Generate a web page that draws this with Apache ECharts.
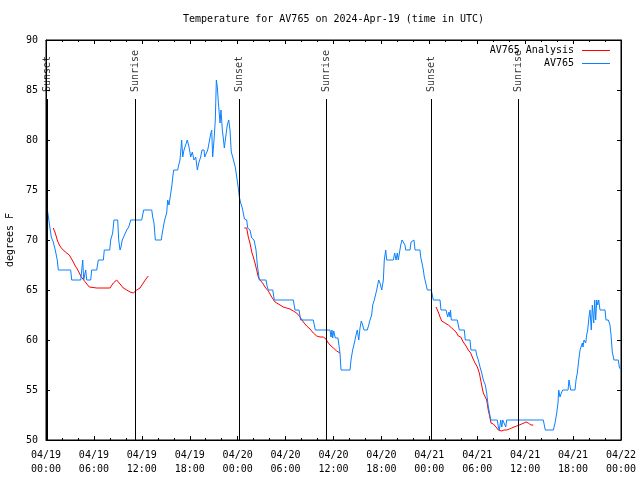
<!DOCTYPE html>
<html><head><meta charset="utf-8">
<script src="https://cdn.jsdelivr.net/npm/echarts@6/dist/echarts.min.js"></script>
<style>html,body{margin:0;padding:0;background:#fff}#c{width:640px;height:480px}</style>
</head><body><div id="c"></div>
<script>
// ---- data (hours since 2024-04-19 00:00 UTC, degrees F) ----
const titleText = 'Temperature for AV765 on 2024-Apr-19 (time in UTC)';
const xTickLabels = ['04/19\n00:00','04/19\n06:00','04/19\n12:00','04/19\n18:00','04/20\n00:00','04/20\n06:00','04/20\n12:00','04/20\n18:00','04/21\n00:00','04/21\n06:00','04/21\n12:00','04/21\n18:00','04/22\n00:00'];
const sunNames = ['Sunset','Sunrise','Sunset','Sunrise','Sunset','Sunrise'];
const sunHours = [0.13, 11.23, 24.2, 35.1, 48.27, 59.14];

const obsHours = [0.16,0.41,0.66,0.91,1.16,1.41,1.54,3.09,3.22,4.35,4.60,4.72,4.97,5.10,5.60,5.72,6.35,6.55,7.18,7.30,7.98,8.10,8.35,8.51,8.98,9.10,9.27,9.39,9.55,10.11,10.36,10.61,11.98,12.23,13.24,13.36,13.52,13.69,14.44,14.56,14.74,14.86,15.11,15.24,15.40,15.74,15.87,15.99,16.49,16.62,16.78,16.99,17.12,17.28,17.49,17.69,17.91,18.12,18.32,18.53,18.75,18.95,19.16,19.37,19.53,19.79,19.87,20.07,20.25,20.47,20.62,20.75,20.87,21.04,21.20,21.33,21.45,21.58,21.79,21.91,22.08,22.20,22.33,22.50,22.70,22.88,23.04,23.20,23.38,23.54,23.70,23.88,24.08,24.21,24.38,24.58,24.83,24.85,25.13,25.26,25.54,25.76,26.05,26.30,26.46,26.71,27.55,27.71,27.84,28.39,28.59,30.97,31.18,31.68,31.89,33.47,33.72,35.56,35.69,35.81,35.90,36.03,36.23,36.56,36.81,36.94,38.07,38.19,38.40,38.61,38.82,38.98,39.16,39.32,39.48,39.61,39.82,40.23,40.41,40.57,40.78,40.91,41.11,41.41,41.53,41.66,41.82,42.04,42.24,42.36,42.54,42.66,43.49,43.66,43.83,43.99,44.11,44.33,44.42,44.58,44.83,44.95,45.04,45.58,45.71,45.87,46.08,46.21,46.83,46.92,47.08,47.25,47.37,47.55,47.75,48.25,48.37,48.50,49.34,49.46,50.09,50.30,50.46,50.59,50.65,50.75,51.50,51.63,51.75,52.38,52.50,53.09,53.21,53.81,53.93,54.13,54.35,54.56,54.76,55.01,55.18,55.35,55.51,55.69,56.51,56.64,56.76,56.94,57.07,57.19,57.44,57.57,57.69,62.27,62.52,63.53,63.74,63.95,64.11,64.20,64.36,64.53,64.70,65.37,65.49,65.70,66.24,66.37,66.53,66.71,66.87,67.08,67.16,67.24,67.37,67.58,67.70,67.83,67.99,68.12,68.28,68.41,68.58,68.71,68.83,68.96,69.08,69.21,69.37,70.00,70.12,70.41,70.62,70.75,70.91,71.12,71.66,71.79,71.97];
const obsTemps = [73.1,71.7,70.3,69.8,69,68,67,67,66,66,68,66,67,66,66,67,67,68,68,69,69,70,70.7,72,72,70,69,69.3,70,71,71.3,72,72,73,73,72.3,71.7,70,70,70.7,71.5,72,72.7,74,73.5,75.3,76.3,77,77,77.5,78,80,78.3,79,79.5,80,79.3,78.3,78.8,78,78.3,77,77.8,78.3,79,79,78.3,78.3,79,79,80.6,81,78.3,80,82,86,85.3,83.8,81.7,83,81,80.2,79.2,80.3,81.5,82,81,78.8,78.3,77.8,77.3,76.3,75.2,74.3,73.7,73.2,73.1,72.1,72,71.2,71,70.2,70,69,67.5,66,66,65.3,65,65,64,64,63,63,62,62,61,61,60.3,61,60.2,60.9,60.2,60.2,58.7,57,57,58,59,59.7,60.5,61,60,61.2,61.9,61.6,61,61,61.5,62,62.5,63.5,64,65,65.5,66,65.7,65,66,68,69,68,68,68.7,68,68.7,68,68,69.5,70,70,69.5,69,69,69.8,70,70,69,69,68.3,67.7,67,66.3,65.7,65,65,64.5,64,64,63,63,62.3,62.8,62.3,63,62,62,61.5,61,61,60,60,59,59,58.5,58,57.3,56.7,56,55.5,54.7,53.5,52.8,52,52,51.3,51,52,51.3,52,52,51.3,52,52,51,51,51.7,52.7,53.7,55,54.3,54.7,55,55,56,55,55,56,56.7,58,59,59,59.7,59.3,60,59.7,60.5,61,62.3,63,61,63.5,61.7,64,62,64,63.5,64,63,63,62,62,61.5,60.5,58.8,58,58,57.3,57];

const anaHours1 = [0.91,1.16,1.41,1.67,1.92,2.17,2.42,2.67,2.92,3.17,3.42,3.67,3.92,4.17,4.42,4.67,4.92,5.17,5.42,5.67,6.35,8.01,8.43,8.85,9.27,9.68,10.11,10.52,10.93,11.36,11.77,12.18,12.52,12.81];
const anaTemps1 = [71.2,70.7,70,69.5,69.2,69,68.8,68.6,68.5,68.3,67.8,67.4,67.1,66.7,66.3,66.1,65.8,65.6,65.3,65.1,65.2,65.2,65.7,66,65.6,65.2,65,64.8,64.7,65,65.2,65.7,66.1,66.4];
const anaHours2 = [24.83,25.13,25.33,25.54,25.76,25.96,26.17,26.38,26.58,26.80,27.21,27.42,27.84,28.05,28.26,28.46,28.68,28.89,29.30,29.71,30.14,30.55,30.97,31.39,31.81,32.22,32.64,33.06,33.47,33.90,34.31,34.72,35.06,35.27,35.56,35.98,36.40,36.81];
const anaTemps2 = [71.2,71.2,70.3,69.7,68.8,68.3,67.7,67,66.3,66,65.6,65.3,64.9,64.7,64.3,64.2,63.8,63.6,63.5,63.3,63.2,63.1,62.9,62.7,62.3,61.8,61.4,61.1,60.7,60.4,60.3,60.3,60.1,59.8,59.5,59.2,58.9,58.7];
const anaHours3 = [48.84,49.12,49.34,49.55,49.96,50.38,50.80,51.34,51.63,51.93,52.25,52.59,52.88,53.18,53.43,53.72,54.01,54.26,54.43,54.60,54.76,55.01,55.18,55.38,55.60,55.72,56.01,56.35,56.64,57.07,57.35,57.69,58.01,58.31,58.60,58.94,59.26,59.56,59.85,60.11,60.39,60.73,61.02];
const anaTemps3 = [63.3,62.8,62.3,61.9,61.7,61.5,61.2,60.8,60.4,60.3,59.8,59.4,59,58.7,58.2,57.7,57.3,56.7,56,55.3,54.7,54.5,54,53,52.2,51.7,51.6,51.3,51,50.9,51,51,51.1,51.2,51.3,51.4,51.5,51.6,51.7,51.8,51.7,51.5,51.5];

// ---- build chart ----
const zip = (a, b) => a.map((v, i) => [v, b[i]]);
const FONT = 'DejaVu Sans Mono';
const RED = '#ff0000', BLUE = '#0a80ff';
const sunLineTop = 84.1, sunLabelBase = 84.8;

const chart = echarts.init(document.getElementById('c'), null, {renderer: 'canvas'});
const baseX = {type: 'value', min: 0, max: 72, interval: 6,
  axisLine: {show: true, onZero: false, lineStyle: {color: '#000', width: 1}},
  axisTick: {show: true, inside: true, length: 4, lineStyle: {color: '#000'}},
  minorTick: {show: true, splitNumber: 3, length: 2, lineStyle: {color: '#000'}},
  splitLine: {show: false}, minorSplitLine: {show: false}};
const baseY = {type: 'value', min: 50, max: 90, interval: 5,
  axisLine: {show: true, onZero: false, lineStyle: {color: '#000', width: 1}},
  axisTick: {show: true, inside: true, length: 4, lineStyle: {color: '#000'}},
  splitLine: {show: false}};

const anaSeries = [[anaHours1, anaTemps1], [anaHours2, anaTemps2], [anaHours3, anaTemps3]].map(([h, t]) => ({
  name: 'AV765 Analysis', type: 'line', data: zip(h, t), showSymbol: false, symbol: 'none',
  lineStyle: {color: RED, width: 1}, itemStyle: {color: RED}, z: 3
}));

chart.setOption({
  animation: false,
  backgroundColor: '#fff',
  textStyle: {fontFamily: FONT},
  title: {text: titleText, left: 333.5, top: 14, textAlign: 'center', padding: 0,
    textStyle: {fontFamily: FONT, fontSize: 10, fontWeight: 'normal', color: '#000'}},
  legend: {data: ['AV765 Analysis', 'AV765'], orient: 'vertical', right: 30, top: 44, align: 'right',
    icon: 'rect', itemWidth: 28, itemHeight: 1, itemGap: 0, padding: 0,
    textStyle: {fontFamily: FONT, fontSize: 10, color: '#000', lineHeight: 13, padding: [0, 3, 0, 0]}},
  grid: {left: 46, right: 19, top: 40, bottom: 40, show: true, borderColor: '#000', borderWidth: 1,
    containLabel: false, outerBoundsMode: 'none'},
  xAxis: [
    Object.assign({}, baseX, {position: 'bottom',
      axisLabel: {show: true, fontFamily: FONT, fontSize: 10, color: '#000', margin: 8, lineHeight: 14,
        showMaxLabel: true, showMinLabel: true,
        formatter: v => xTickLabels[Math.round(v / 6)] || ''}}),
    Object.assign({}, baseX, {position: 'top', axisLabel: {show: false}})
  ],
  yAxis: [
    Object.assign({}, baseY, {position: 'left', name: 'degrees F', nameLocation: 'middle', nameGap: 31,
      nameRotate: 90, nameTextStyle: {fontFamily: FONT, fontSize: 10, color: '#000'},
      axisLabel: {show: true, fontFamily: FONT, fontSize: 10, color: '#000', margin: 8}}),
    Object.assign({}, baseY, {position: 'right', axisLabel: {show: false}})
  ],
  series: [
    {name: 'sun', type: 'scatter', data: sunHours.map(h => [h, sunLabelBase]), symbolSize: 1,
      itemStyle: {color: 'rgba(0,0,0,0)'}, silent: true, z: 1,
      label: {show: true, position: 'inside', rotate: 90, align: 'left', verticalAlign: 'middle',
        fontFamily: FONT, fontSize: 10, color: '#000', formatter: p => sunNames[p.dataIndex]},
      markLine: {silent: true, symbol: 'none', label: {show: false}, animation: false,
        lineStyle: {color: '#000', width: 1, type: 'solid'},
        data: sunHours.map(h => [{coord: [h, 50]}, {coord: [h, sunLineTop]}])}},
    ...anaSeries,
    {name: 'AV765', type: 'line', data: zip(obsHours, obsTemps), showSymbol: false, symbol: 'none',
      lineStyle: {color: BLUE, width: 1}, itemStyle: {color: BLUE}, z: 4}
  ]
});
</script></body></html>
